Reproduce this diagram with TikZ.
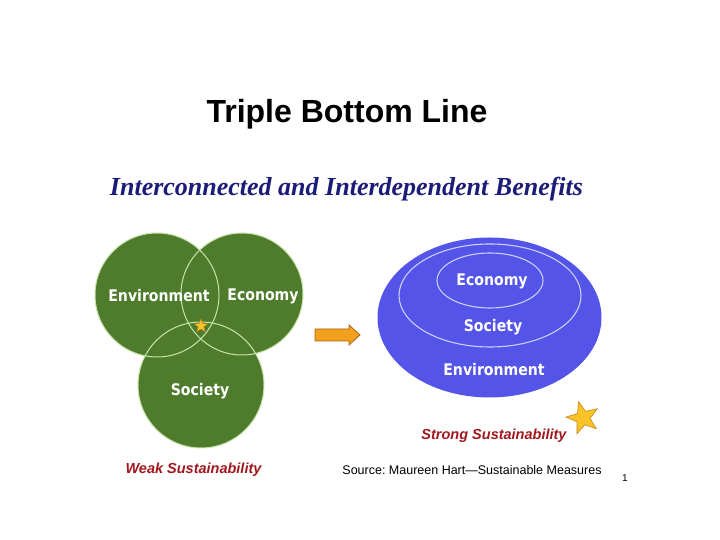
\documentclass[tikz,border=0pt]{standalone}
\usepackage{fontspec}
\setmainfont{Liberation Sans}
\newfontfamily\titlefont{Liberation Sans}
\newfontfamily\subfont{Liberation Serif}
\newfontfamily\labelfont[FakeStretch=0.88]{DejaVu Sans}
\usetikzlibrary{shapes.geometric}
\frenchspacing
\definecolor{venngreen}{RGB}{78,124,44}
\definecolor{vennline}{RGB}{200,228,170}
\definecolor{ellblue}{RGB}{84,84,232}
\definecolor{ellline}{RGB}{205,205,255}
\definecolor{subblue}{RGB}{28,28,120}
\definecolor{sustred}{RGB}{160,24,30}
\definecolor{arroworange}{RGB}{242,160,30}
\definecolor{arrowedge}{RGB}{170,100,20}
\definecolor{staryellow}{RGB}{250,196,40}
\definecolor{staredge}{RGB}{200,130,30}
\tikzset{
  x=1pt, y=1pt,
  venncircle/.style={circle, fill=venngreen, inner sep=0, minimum size=#1},
  vennlabel/.style={text=white, font=\labelfont\bfseries\fontsize{16}{18}\selectfont, inner sep=0},
  elllabel/.style={text=white, font=\labelfont\bfseries\fontsize{16}{18}\selectfont, inner sep=0},
  ringline/.style={draw=ellline, line width=1.1pt, fill=none, ellipse, inner sep=0},
  sustlabel/.style={text=sustred, font=\bfseries\itshape\fontsize{14.5}{16}\selectfont, inner sep=0},
  starshape/.style={star, star points=5, star point ratio=2.4, fill=staryellow, draw=staredge, inner sep=0}
}
\begin{document}
\begin{tikzpicture}
\useasboundingbox (0,0) rectangle (720,540);
\fill[white] (0,0) rectangle (720,540);
% title
\node[anchor=base, font=\titlefont\bfseries\fontsize{32}{36}\selectfont, inner sep=0] (title) at (347,417) {Triple Bottom Line};
\node[anchor=base, text=subblue, font=\subfont\bfseries\itshape\fontsize{26}{30}\selectfont, inner sep=0] (subtitle) at (346.5,344) {Interconnected and Interdependent Benefits};
% Venn diagram
\node[venncircle=124pt] (env) at (157,245) {};
\node[venncircle=122pt] (eco) at (242,246) {};
\node[venncircle=126pt] (soc) at (201,155) {};
\draw[vennline, line width=1pt] (env.center) circle (62);
\draw[vennline, line width=1pt] (eco.center) circle (61);
\draw[vennline, line width=1pt] (soc.center) circle (63);
\node[vennlabel] (envlab) at (159,244) {Environment};
\node[vennlabel] (ecolab) at (263,244) {Economy};
\node[vennlabel] (soclab) at (200,149) {Society};
\node[starshape, minimum size=14pt, line width=0.4pt] (smallstar) at (201,214) {};
% arrow
\coordinate (arrowtip) at (360,205);
\fill[arroworange, draw=arrowedge, line width=0.8pt]
  (315,199) -- (349,199) -- (349,195) -- (arrowtip) -- (349,215) -- (349,211) -- (315,211) -- cycle;
% nested ellipses
\node[ellipse, fill=ellblue, minimum width=224pt, minimum height=160pt, inner sep=0] (envE) at (489.5,222.5) {};
\node[ringline, minimum width=182pt, minimum height=103pt] (socE) at (490,244.5) {};
\node[ringline, minimum width=106pt, minimum height=55pt] (ecoE) at (490,259.5) {};
\node[elllabel] (ecoElab) at (492,259) {Economy};
\node[elllabel] (socElab) at (493,213) {Society};
\node[elllabel] (envElab) at (494,170) {Environment};
% labels
\node[sustlabel] (strong) at (494,104) {Strong Sustainability};
\node[starshape, minimum size=34pt, rotate=15, line width=0.6pt] (bigstar) at (583,122) {};
\node[sustlabel] (weak) at (193.5,70) {Weak Sustainability};
\node[font=\fontsize{12.5}{14}\selectfont, inner sep=0] (source) at (472,70) {Source: Maureen Hart—Sustainable Measures};
\node[font=\fontsize{10}{11}\selectfont, inner sep=0] (pagenum) at (625,62) {1};
\end{tikzpicture}
\end{document}
